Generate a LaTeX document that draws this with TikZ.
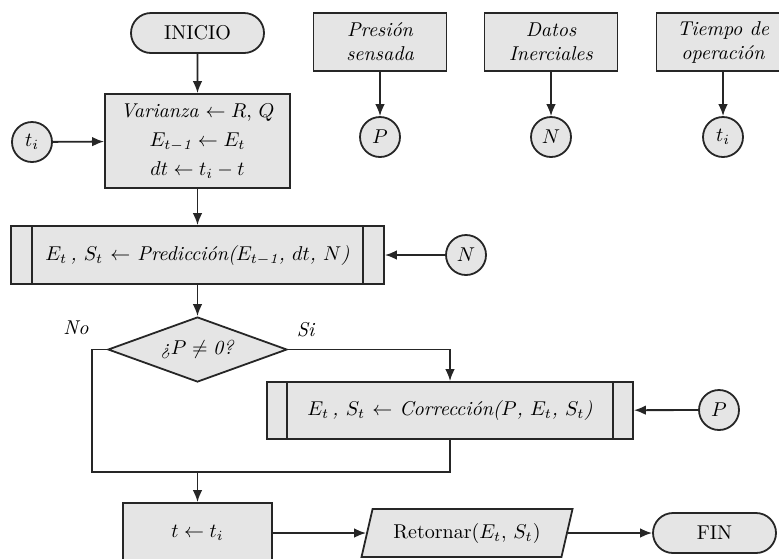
\documentclass[tikz,border=0pt]{standalone}
\usepackage{fontspec}
\usetikzlibrary{shapes.geometric,shapes.misc,arrows.meta}

\begin{document}
\begin{tikzpicture}[x=0.5pt,y=-0.5pt,
  line width=0.9pt,
  >={Latex[length=6pt,width=4.8pt]},
  base/.style={draw=black!85, fill=gray!20, line width=0.9pt, inner sep=2pt, align=center},
  terminal/.style={base, rounded rectangle, minimum width=70.5pt, minimum height=20pt},
  process/.style={base, rectangle},
  predef/.style={base, rectangle},
  decision/.style={base, diamond, aspect=2.75, minimum width=89.5pt, minimum height=32.5pt, inner sep=0pt},
  io/.style={base, trapezium, trapezium left angle=72, trapezium right angle=108,
    trapezium stretches=true, minimum width=106pt, minimum height=24pt},
  connector/.style={base, circle, minimum size=20pt, inner sep=0pt},
  inbox/.style={process, minimum width=66.5pt, minimum height=29pt, font=\itshape},
  flow/.style={->, draw=black!85},
  wire/.style={draw=black!85}
]
\useasboundingbox (0,0) rectangle (779,558);

% main column
\node[terminal] (ini) at (197.5,33) {INICIO};
\node[process, minimum width=92.5pt, minimum height=47pt] (var) at (197.5,141)
  {\textit{Varianza} $\leftarrow R$, $Q$\\[2.5pt] $E_{t-\mathit{1}} \leftarrow E_t$\\[2.5pt] $dt \leftarrow t_i - t$};
\node[predef, minimum width=186.5pt, minimum height=29pt] (pred) at (197.5,255)
  {\textit{$E_t$\,, $S_t$ $\leftarrow$ Predicción($E_{t-\mathit{1}}$, $dt$, $N$)}};
\draw[wire] ([xshift=11pt]pred.north west) -- ([xshift=11pt]pred.south west);
\draw[wire] ([xshift=-11pt]pred.north east) -- ([xshift=-11pt]pred.south east);
\node[decision] (dec) at (197.5,349.5) {\textit{¿}$P \neq \mathit{0}$\textit{?}};
\node[predef, minimum width=183pt, minimum height=28.5pt] (cor) at (450,410.5)
  {\textit{$E_t$\,, $S_t$ $\leftarrow$ Corrección($P$, $E_t$, $S_t$)}};
\draw[wire] ([xshift=10.5pt]cor.north west) -- ([xshift=10.5pt]cor.south west);
\draw[wire] ([xshift=-10.5pt]cor.north east) -- ([xshift=-10.5pt]cor.south east);
\node[process, minimum width=74.5pt, minimum height=30pt] (tb) at (197.5,533) {$t \leftarrow t_i$};
\node[io] (ret) at (467,533) {Retornar($E_t$, $S_t$)};
\node[terminal, minimum width=65.5pt] (fin) at (714.5,533) {FIN};

% data sources
\node[inbox] (pres) at (380,42) {Presión\\sensada};
\node[inbox] (dat) at (551,42) {Datos\\Inerciales};
\node[inbox] (tie) at (723,42) {Tiempo de\\operación};

% connectors (circles)
\node[connector] (cti) at (32,142) {$t_i$};
\node[connector] (cP) at (380,137) {$P$};
\node[connector] (cN) at (551,137) {$N$};
\node[connector] (ct) at (723,137) {$t_i$};
\node[connector] (cN2) at (466,255) {$N$};
\node[connector] (cP2) at (719,410) {$P$};

% branch labels
\node (no) at (76,328) {\textit{No}};
\node (si) at (306,330) {\textit{Si}};

% flow lines
\draw[flow] (ini) -- (var);
\draw[flow] (cti) -- (var);
\draw[flow] (var) -- (pred);
\draw[flow] (cN2) -- (pred);
\draw[flow] (pred) -- (dec);
\draw[flow] (dec.east) -| (cor.north);
\draw[flow] (cP2) -- (cor);

\coordinate (jl) at (92,472);
\coordinate (jr) at (cor.south |- jl);
\coordinate (jm) at (dec.south |- jl);
\draw[wire] (dec.west) -| (jl) -- (jr) -- (cor.south);
\draw[flow] (jm) -- (tb.north);
\draw[flow] (tb.east) -- (ret.west);
\draw[flow] (ret.east) -- (fin.west);

\draw[flow] (pres) -- (cP);
\draw[flow] (dat) -- (cN);
\draw[flow] (tie) -- (ct);
\end{tikzpicture}
\end{document}
